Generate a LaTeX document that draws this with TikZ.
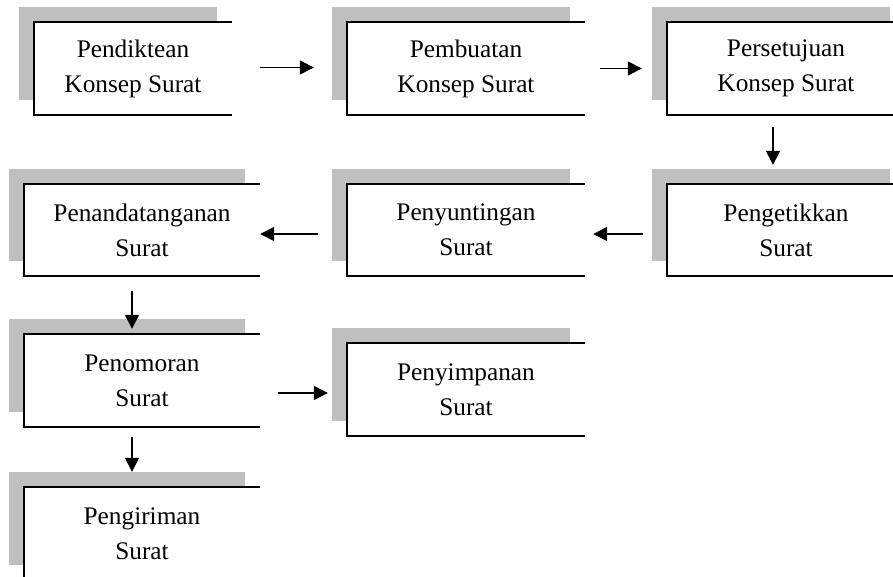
\documentclass[tikz,border=0pt]{standalone}
\usepackage{fontspec}
\setmainfont{Liberation Serif}
\usetikzlibrary{arrows.meta}
\tikzset{
  box/.style={fill=white, draw=none, inner sep=0pt, align=center,
    minimum height=93pt, font=\fontsize{25.3}{35}\selectfont},
  edge/.style={draw=black, line width=1.7pt, line join=miter},
  shade/.style={fill=black!25},
  arr/.style={draw=black, line width=1.6pt, -{Triangle[length=14pt,width=14pt]}}
}
\newcommand{\boxedge}[1]{%
  \fill[shade] ([shift={(-15,-15)}]#1.north west) rectangle ([shift={(-15,-15)}]#1.south east);
  \fill[white] (#1.north west) rectangle (#1.south east);
  \node at (#1) {};
  \draw[edge] (#1.north east) -- (#1.north west) -- (#1.south west) -- (#1.south east);
}
\begin{document}
\begin{tikzpicture}[x=1pt, y=-1pt]
\useasboundingbox (0,0) rectangle (893,577);
\clip (0,0) rectangle (893,577);
% nodes (positions only; drawn after shadows)
\path
  (133,68.5)  node[box, minimum width=198pt] (b1) {}
  (466,68.5)  node[box, minimum width=238pt] (b2) {}
  (786,68.5)  node[box, minimum width=238pt] (b3) {}
  (786,230)   node[box, minimum width=238pt, minimum height=92pt] (b4) {}
  (466,230)   node[box, minimum width=238pt, minimum height=92pt] (b5) {}
  (142,230)   node[box, minimum width=236pt, minimum height=92pt] (b6) {}
  (142,380.5) node[box, minimum width=236pt] (b7) {}
  (466,389.5) node[box, minimum width=238pt] (b8) {}
  (142,533.5) node[box, minimum width=236pt] (b9) {};
\foreach \b in {b1,b2,b3,b4,b5,b6,b7,b8,b9}{\boxedge{\b}}
\node[box, fill=none, minimum width=198pt] at (b1) {Pendiktean\\Konsep Surat};
\node[box, fill=none, minimum width=238pt] at (b2) {Pembuatan\\Konsep Surat};
\node[box, fill=none, minimum width=238pt] at (b3) {Persetujuan\\Konsep Surat};
\node[box, fill=none, minimum width=238pt] at (b4) {Pengetikkan\\Surat};
\node[box, fill=none, minimum width=238pt] at (b5) {Penyuntingan\\Surat};
\node[box, fill=none, minimum width=236pt] at (b6) {Penandatanganan\\Surat};
\node[box, fill=none, minimum width=236pt] at (b7) {Penomoran\\Surat};
\node[box, fill=none, minimum width=238pt] at (b8) {Penyimpanan\\Surat};
\node[box, fill=none, minimum width=236pt] at (b9) {Pengiriman\\Surat};
% connectors
\draw[arr, shorten <=28pt, shorten >=33pt] ([shift={(0,-1)}]b1.east) -- ([shift={(0,-1)}]b2.west);
\draw[arr, shorten <=15pt, shorten >=25pt] ([shift={(0,0)}]b2.east) -- ([shift={(0,0)}]b3.west);
\draw[arr, shorten <=12pt, shorten >=19pt] ([shift={(-13,0)}]b3.south) -- ([shift={(-13,0)}]b4.north);
\draw[arr, shorten <=24pt, shorten >=8pt] ([shift={(0,4)}]b4.west) -- ([shift={(0,4)}]b5.east);
\draw[arr, shorten <=29pt, shorten >=0pt] ([shift={(0,4)}]b5.west) -- ([shift={(0,4)}]b6.east);
\draw[arr, shorten <=15pt, shorten >=5pt] ([shift={(-10,0)}]b6.south) -- ([shift={(-10,0)}]b7.north);
\draw[arr, shorten <=18pt, shorten >=19pt] ([shift={(0,12.5)}]b7.east) -- ([shift={(0,3.5)}]b8.west);
\draw[arr, shorten <=10pt, shorten >=15pt] ([shift={(-10,0)}]b7.south) -- ([shift={(-10,0)}]b9.north);
\end{tikzpicture}
\end{document}
